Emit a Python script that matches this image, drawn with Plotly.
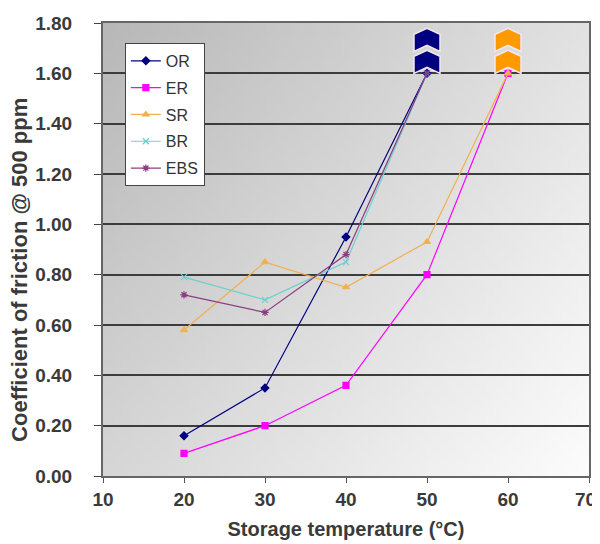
import base64, struct, zlib
import plotly.graph_objects as go

# ---------------- data ----------------
temps = [20, 30, 40, 50, 60]
OR = [0.16, 0.35, 0.95, 1.60]
ER = [0.09, 0.20, 0.36, 0.80, 1.60]
SR = [0.58, 0.85, 0.75, 0.93, 1.60]
BR = [0.79, 0.70, 0.85, 1.60]
EBS = [0.72, 0.65, 0.88, 1.60]
series_names = ["OR", "ER", "SR", "BR", "EBS"]
series_values = [OR, ER, SR, BR, EBS]
colors = ["#000080", "#FF00FF", "#F2B04E", "#6CCFCF", "#8E3A80"]
symbols = ["diamond", "square", "triangle-up", "x-thin-open", "asterisk-open"]
x_ticks = [10, 20, 30, 40, 50, 60, 70]
y_ticks = [0.0, 0.2, 0.4, 0.6, 0.8, 1.0, 1.2, 1.4, 1.6, 1.8]
x_title = "Storage temperature (°C)"
y_title = "Coefficient of friction @ 500 ppm"
# out-of-range ("beyond scale") indicators
overflow_x = [50, 60]
overflow_y = [1.60, 1.60]
overflow_colors = ["#000080", "#FF9900"]


# ---------------- gradient background image ----------------
def png_uri(w, h, func):
    raw = b""
    for j in range(h):
        raw += b"\x00"
        for i in range(w):
            v = func(i / (w - 1), j / (h - 1))
            raw += bytes([v, v, v])

    def chunk(t, d):
        c = struct.pack(">I", len(d)) + t + d
        return c + struct.pack(">I", zlib.crc32(t + d) & 0xFFFFFFFF)

    png = b"\x89PNG\r\n\x1a\n"
    png += chunk(b"IHDR", struct.pack(">IIBBBBB", w, h, 8, 2, 0, 0, 0))
    png += chunk(b"IDAT", zlib.compress(raw, 9))
    png += chunk(b"IEND", b"")
    return "data:image/png;base64," + base64.b64encode(png).decode()


TL, TR, BL, BRc = 184, 226, 214, 252


def grad(u, v):
    top = TL * (1 - u) + TR * u
    bot = BL * (1 - u) + BRc * u
    return int(round(top * (1 - v) + bot * v))


bg = png_uri(64, 64, grad)

fig = go.Figure()
for name, vals, c, s in zip(series_names, series_values, colors, symbols):
    fig.add_trace(go.Scatter(
        x=temps[:len(vals)], y=vals, name=name, mode="lines+markers",
        legendgroup=name,
        line=dict(color=c, width=1.2),
        marker=dict(symbol=s, size=6, color=c, line=dict(color=c, width=1.2)),
    ))

# chevron shapes anchored at data positions (pixel-size paths)
chev = "M-13,0 L-13,17 L0,23 L13,17 L13,0 L0,6 Z"
chev2 = "M-13,22 L-13,39 L0,45 L13,39 L13,22 L0,28 Z"
for xv, yv, c in zip(overflow_x, overflow_y, overflow_colors):
    for p in (chev, chev2):
        fig.add_shape(type="path", path=p, xref="x", yref="y",
                      xsizemode="pixel", ysizemode="pixel",
                      xanchor=xv, yanchor=yv,
                      fillcolor=c, line=dict(color="#F4E6F0", width=1.5),
                      layer="above")

tick_font = dict(size=19, family="Liberation Sans, Arial", color="#3a3a3a", weight="bold")
# last x tick label, nudged inward so it stays inside the page
fig.add_annotation(x=x_ticks[-1], y=0, xref="x", yref="paper", text=str(x_ticks[-1]),
                   showarrow=False, xanchor="right", yanchor="top",
                   xshift=9, yshift=-11, font=tick_font)
# y axis title
fig.add_annotation(x=0, y=0.455, xref="paper", yref="paper", text=y_title,
                   textangle=-90, showarrow=False, xanchor="center", yanchor="middle",
                   xshift=-83,
                   font=dict(size=22, family="Liberation Sans, Arial", color="#3a3a3a", weight="bold"))

font = "Liberation Sans, Arial, sans-serif"
fig.update_layout(
    width=600, height=544,
    margin=dict(l=95, r=19, t=15, b=76, autoexpand=False),
    paper_bgcolor="white", plot_bgcolor="rgba(0,0,0,0)",
    font=dict(family=font, size=17, color="#3a3a3a"),
    showlegend=True,
    legend=dict(x=0.045, y=0.956, xanchor="left", yanchor="top",
                bgcolor="white", bordercolor="#444", borderwidth=1,
                font=dict(size=16, color="#333"), itemwidth=30,
                tracegroupgap=3),
    images=[dict(source=bg, xref="paper", yref="paper", x=0, y=1,
                 sizex=1, sizey=1, sizing="stretch", layer="below")],
)
fig.update_xaxes(
    range=[10, 70], tickvals=x_ticks,
    ticktext=[str(t) for t in x_ticks[:-1]] + [""],
    ticks="outside", ticklen=5, tickcolor="#555", showgrid=False,
    showline=True, linecolor="#666", linewidth=2, mirror=True, zeroline=False,
    automargin=False,
    tickfont=tick_font,
    title=dict(text=x_title, standoff=13,
               font=dict(size=20, color="#3a3a3a", weight="bold")),
)
fig.update_yaxes(
    range=[0, 1.8], tickvals=y_ticks, ticktext=[f"{t:.2f}" for t in y_ticks],
    ticks="outside", ticklen=7, tickcolor="#444", showgrid=True,
    gridcolor="#3c3c3c", gridwidth=1.5,
    showline=True, linecolor="#666", linewidth=2, mirror=True, zeroline=False,
    automargin=False,
    ticklabelstandoff=18,
    tickfont=tick_font,
)
fig.write_html("out.html")
